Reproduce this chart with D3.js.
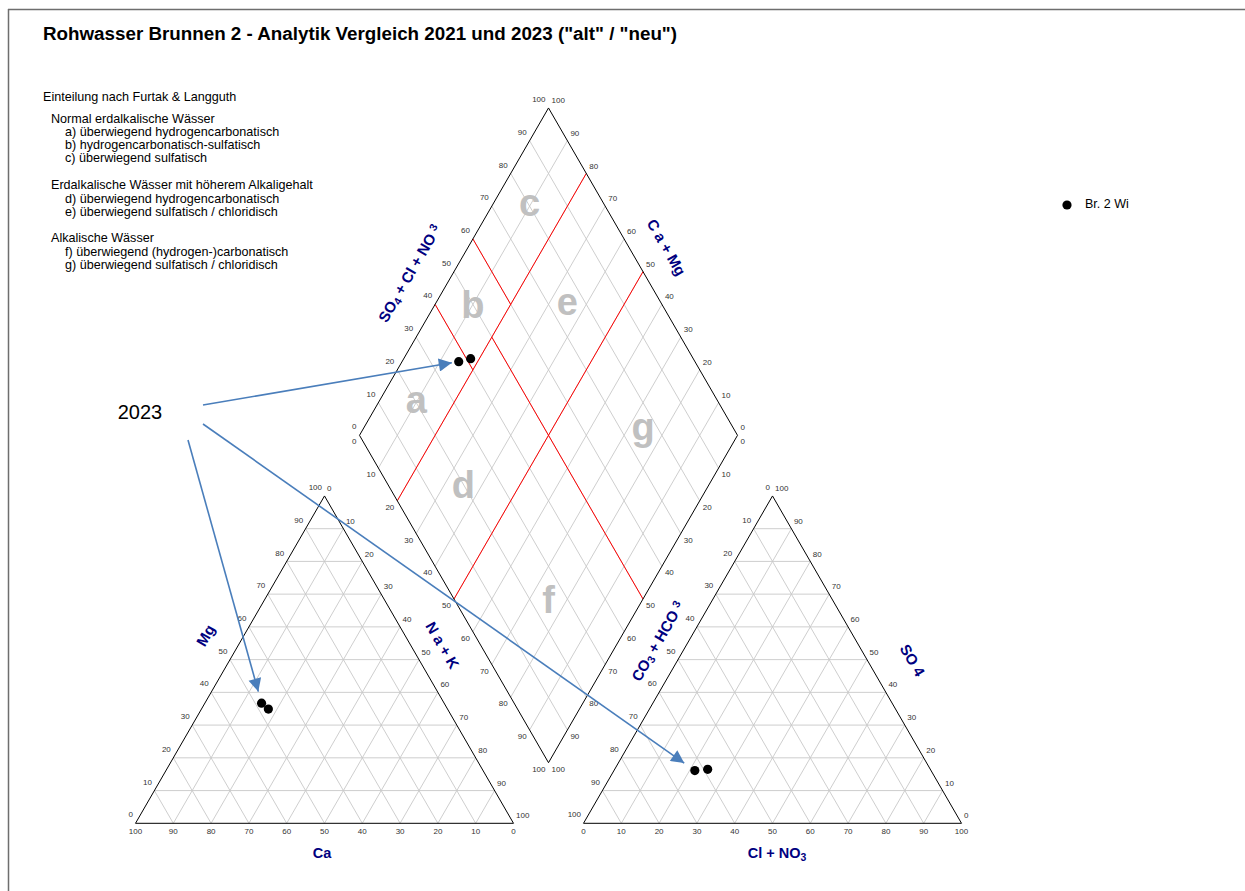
<!DOCTYPE html>
<html>
<head>
<meta charset="utf-8">
<script src="https://cdn.jsdelivr.net/npm/d3@7"></script>
<style>
  html, body { margin: 0; padding: 0; background: #fff; }
  svg { display: block; font-family: Arial, "Liberation Sans", sans-serif; }
</style>
</head>
<body>
<svg id="chart" width="1245" height="891"></svg>
<script>
// ---- Sample data: Brunnen 2, two analyses (meq-%) ----
const sampleYears = ["2023", "2021"];
const caPct   = [48.3, 47.4];
const mgPct   = [36.7, 34.9];
const naKPct  = [15.0, 17.7];
const hco3Pct = [62.5, 58.9];
const so4Pct  = [16.1, 16.5];
const clNo3Pct = [21.4, 24.6];

const seriesName = "Br. 2 Wi";
const tickValues = [0, 10, 20, 30, 40, 50, 60, 70, 80, 90, 100];

// Furtak & Langguth boundaries in the diamond: [anion SO4+Cl, Na+K] start -> end
const fieldBoundaries = [
  [[40, 0], [40, 20]],
  [[60, 0], [60, 20]],
  [[0, 20], [100, 20]],
  [[50, 20], [50, 100]],
  [[0, 50], [100, 50]]
];
// field letters, placed at [SO4+Cl, Na+K]
const fieldLetters = ["a", "b", "c", "d", "e", "f", "g"];
const fieldLetterAnion = [20, 50, 80, 20, 75, 25, 75];
const fieldLetterNaK   = [10, 10, 10, 35, 35, 75, 75];

const legendLines = [
  "Einteilung nach Furtak & Langguth",
  "Normal erdalkalische Wässer",
  "a) überwiegend hydrogencarbonatisch",
  "b) hydrogencarbonatisch-sulfatisch",
  "c) überwiegend sulfatisch",
  "Erdalkalische Wässer mit höherem Alkaligehalt",
  "d) überwiegend hydrogencarbonatisch",
  "e) überwiegend sulfatisch / chloridisch",
  "Alkalische Wässer",
  "f) überwiegend (hydrogen-)carbonatisch",
  "g) überwiegend sulfatisch / chloridisch"
];
const legendIndent = [0, 1, 2, 2, 2, 1, 2, 2, 1, 2, 2];
const legendRowY   = [98, 120, 133, 146, 159, 186, 200, 213, 239, 253, 266];

// ---- Layout ----
const svg = d3.select("#chart");
const SIDE = 378;
const HGT = SIDE * Math.sqrt(3) / 2;
const BASE = 823.3;
const LEFT_X0 = 135.5;
const GAP = 70;
const RIGHT_X0 = LEFT_X0 + SIDE + GAP;
const DIA_BOTTOM = [LEFT_X0 + SIDE + GAP / 2, BASE - GAP * Math.sqrt(3) / 2];
const DIA_LEFT = [DIA_BOTTOM[0] - SIDE / 2, DIA_BOTTOM[1] - HGT];

// scales
const yTri = d3.scaleLinear().domain([0, 100]).range([BASE, BASE - HGT]);
const xCat = d3.scaleLinear().domain([0, 100]).range([LEFT_X0, LEFT_X0 + SIDE]);
const xAn  = d3.scaleLinear().domain([0, 100]).range([RIGHT_X0, RIGHT_X0 + SIDE]);
const xDia = d3.scaleLinear().domain([0, 200]).range([DIA_LEFT[0], DIA_LEFT[0] + SIDE]);
const yDia = d3.scaleLinear().domain([-100, 100]).range([DIA_LEFT[1] - HGT, DIA_LEFT[1] + HGT]);

// cation: r = Na+K, t = Mg ; anion: r = Cl+NO3, t = SO4
const cat = (r, t) => [xCat(r + t / 2), yTri(t)];
const an  = (r, t) => [xAn(r + t / 2), yTri(t)];
// diamond: a = SO4+Cl+NO3, n = Na+K
const dia = (a, n) => [xDia(a + n), yDia(n - a)];

const line = d3.line();
const GRID = "#c8c8c8";

// ---- Frame ----
svg.append("line").attr("x1", 8).attr("x2", 1245).attr("y1", 9.5).attr("y2", 9.5)
  .attr("stroke", "#6e6e6e").attr("stroke-width", 1.5);
svg.append("line").attr("x1", 8.5).attr("x2", 8.5).attr("y1", 9).attr("y2", 891)
  .attr("stroke", "#6e6e6e").attr("stroke-width", 1.5);

// ---- Title ----
svg.append("text").attr("x", 43).attr("y", 40)
  .attr("font-size", 18.8).attr("font-weight", "bold").attr("fill", "#000")
  .text('Rohwasser Brunnen 2 - Analytik Vergleich 2021 und 2023 ("alt" / "neu")');

// ---- Classification legend text ----
svg.append("g").selectAll("text").data(legendLines).join("text")
  .attr("x", (d, i) => [43, 51, 65][legendIndent[i]])
  .attr("y", (d, i) => legendRowY[i])
  .attr("dominant-baseline", "middle")
  .attr("font-size", 12.6).attr("fill", "#000")
  .text(d => d);

// ---- Grids ----
const gGrid = svg.append("g").attr("fill", "none").attr("stroke", GRID).attr("stroke-width", 0.9);
const inner = tickValues.filter(v => v > 0 && v < 100);
function triGrid(f) {
  inner.forEach(k => {
    gGrid.append("path").attr("d", line([f(0, k), f(100 - k, k)]));       // horizontal
    gGrid.append("path").attr("d", line([f(k, 0), f(k, 100 - k)]));       // parallel to left edge
    gGrid.append("path").attr("d", line([f(100 - k, 0), f(0, 100 - k)])); // parallel to right edge
  });
}
triGrid(cat);
triGrid(an);
inner.forEach(k => {
  gGrid.append("path").attr("d", line([dia(k, 0), dia(k, 100)]));
  gGrid.append("path").attr("d", line([dia(0, k), dia(100, k)]));
});

// ---- Field boundaries ----
svg.append("g").attr("fill", "none").attr("stroke", "#ff0000").attr("stroke-width", 1)
  .selectAll("path").data(fieldBoundaries).join("path")
  .attr("d", d => line([dia(d[0][0], d[0][1]), dia(d[1][0], d[1][1])]));

// ---- Field letters ----
const letterDy = { a: "0.27em", b: "0.36em", c: "0.27em", d: "0.36em", e: "0.27em", f: "0.36em", g: "0.12em" };
svg.append("g").selectAll("text").data(fieldLetters).join("text")
  .attr("x", (d, i) => dia(fieldLetterAnion[i], fieldLetterNaK[i])[0])
  .attr("y", (d, i) => dia(fieldLetterAnion[i], fieldLetterNaK[i])[1])
  .attr("dy", d => letterDy[d])
  .attr("text-anchor", "middle")
  .attr("font-size", 38).attr("font-weight", "bold").attr("fill", "#c0c0c0")
  .text(d => d);

// ---- Outlines ----
const gEdge = svg.append("g").attr("fill", "none").attr("stroke", "#000").attr("stroke-width", 1);
gEdge.append("path").attr("d", line([cat(0, 0), cat(100, 0), cat(0, 100)]) + "Z");
gEdge.append("path").attr("d", line([an(0, 0), an(100, 0), an(0, 100)]) + "Z");
gEdge.append("path").attr("d", line([dia(0, 0), dia(100, 0), dia(100, 100), dia(0, 100)]) + "Z");

// ---- Tick labels ----
const gTick = svg.append("g").attr("font-size", 8).attr("fill", "#333");
function tick(p, txt, anchor, dx, dy) {
  gTick.append("text").attr("x", p[0] + dx).attr("y", p[1] + dy)
    .attr("text-anchor", anchor).attr("dominant-baseline", "middle").text(txt);
}
tickValues.forEach(v => {
  // cation triangle
  tick(cat(100 - v, 0), v, "middle", 0, 9);          // Ca
  tick(cat(0, v), v, "end", -2.5, -8);               // Mg
  tick(cat(v, 100 - v), v, "start", 2.5, -7);        // Na + K
  // anion triangle
  tick(an(v, 0), v, "middle", 0, 9);                 // Cl + NO3
  tick(an(0, 100 - v), v, "end", -2.5, -8);          // CO3 + HCO3
  tick(an(100 - v, v), v, "start", 2.5, -7);         // SO4
  // diamond
  tick(dia(v, 0), v, "end", -3, -8);                 // SO4 + Cl + NO3
  tick(dia(100, 100 - v), v, "start", 3, -7);        // Ca + Mg
  tick(dia(0, v), v, "end", -3, 7);                  // Na + K
  tick(dia(100 - v, 100), v, "start", 3, 7);         // CO3 + HCO3
});

// ---- Axis titles ----
// parts: [text, shift] where shift is a baseline shift in px for a small index digit
const NAVY = "#00007f";
function axisTitle(x, y, rot, parts, size) {
  const t = svg.append("text")
    .attr("transform", `translate(${x},${y}) rotate(${rot})`)
    .attr("text-anchor", "middle").attr("dominant-baseline", "central")
    .attr("font-size", size).attr("font-weight", "bold").attr("fill", NAVY);
  parts.forEach(p => {
    const s = t.append("tspan").text(p[0]);
    if (p[1] !== undefined) s.attr("font-size", size * 0.72).attr("baseline-shift", p[1]);
  });
}
axisTitle(409, 273, -60, [["SO"], ["4", -4], [" + Cl + NO "], ["3", 2]], 15);
axisTitle(667, 247, 60, [["C a + Mg"]], 15);
axisTitle(205, 635, -60, [["Mg"]], 15);
axisTitle(443, 645, 60, [["N a + K"]], 15);
axisTitle(322, 853, 0, [["Ca"]], 14.5);
axisTitle(657, 641, -60, [["CO"], ["3", -4], [" + HCO "], ["3", 2]], 15);
axisTitle(913, 660, 60, [["SO 4"]], 15);
axisTitle(777, 853, 0, [["Cl + NO"], ["3", -4]], 14.5);

// ---- Sample points ----
const idx = d3.range(sampleYears.length);
const catPts = idx.map(i => cat(naKPct[i], mgPct[i]));
const anPts  = idx.map(i => an(clNo3Pct[i], so4Pct[i]));
const diaPts = idx.map(i => dia(so4Pct[i] + clNo3Pct[i], naKPct[i]));
const gPts = svg.append("g").attr("fill", "#000");
[catPts, anPts, diaPts].forEach(set => {
  gPts.selectAll(null).data(set).join("circle")
    .attr("cx", d => d[0]).attr("cy", d => d[1]).attr("r", 4.6);
});

// ---- Series legend ----
svg.append("circle").attr("cx", 1067).attr("cy", 205).attr("r", 4.6).attr("fill", "#000");
svg.append("text").attr("x", 1085).attr("y", 205).attr("dominant-baseline", "middle")
  .attr("font-size", 12.5).attr("fill", "#000").text(seriesName);

// ---- Annotation: 2023 arrows ----
const ARROW = "#4a7ebb";
svg.append("defs").append("marker")
  .attr("id", "head").attr("viewBox", "0 0 10 10")
  .attr("refX", 10).attr("refY", 5)
  .attr("markerUnits", "userSpaceOnUse")
  .attr("markerWidth", 16).attr("markerHeight", 13)
  .attr("orient", "auto")
  .append("path").attr("d", "M0,0 L10,5 L0,10 Z").attr("fill", ARROW);

svg.append("text").attr("x", 140).attr("y", 414)
  .attr("text-anchor", "middle").attr("dominant-baseline", "middle")
  .attr("font-size", 20).attr("fill", "#000").text(sampleYears[0]);

const i23 = sampleYears.indexOf("2023");
const arrows = [
  { from: [203, 405], to: diaPts[i23], stop: 7 },
  { from: [203, 424], to: anPts[i23], stop: 13 },
  { from: [188, 440], to: catPts[i23], stop: 12 }
];
arrows.forEach(a => {
  const dx = a.to[0] - a.from[0], dy = a.to[1] - a.from[1];
  const len = Math.hypot(dx, dy);
  const tip = [a.to[0] - dx / len * a.stop, a.to[1] - dy / len * a.stop];
  svg.append("path").attr("d", line([a.from, tip]))
    .attr("stroke", ARROW).attr("stroke-width", 1.6).attr("fill", "none")
    .attr("marker-end", "url(#head)");
});
</script>
</body>
</html>
